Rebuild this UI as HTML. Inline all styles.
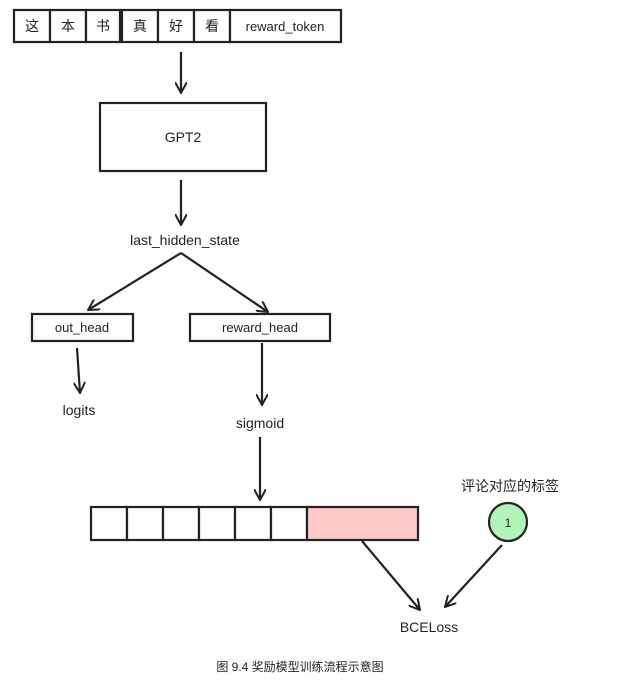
<!DOCTYPE html>
<html><head><meta charset="utf-8"><style>
body{margin:0;background:#fff}
svg text{font-family:"Liberation Sans","Noto Sans CJK SC",sans-serif;fill:#222}
</style></head><body>
<svg width="617" height="685" viewBox="0 0 617 685" xmlns="http://www.w3.org/2000/svg">
<defs><marker id="a" viewBox="0 0 12 12" refX="11" refY="6" markerWidth="12" markerHeight="12" markerUnits="userSpaceOnUse" orient="auto"><path d="M0 0L11 6L0 12" fill="none" stroke="#222" stroke-width="2"/></marker></defs>
<g fill="#fff" stroke="#222" stroke-width="2.2">
<rect x="14" y="10" width="36" height="32"/><rect x="50" y="10" width="36" height="32"/><rect x="86" y="10" width="34" height="32"/><rect x="122" y="10" width="36" height="32"/><rect x="158" y="10" width="36" height="32"/><rect x="194" y="10" width="36" height="32"/><rect x="230" y="10" width="111" height="32"/>
<rect x="100" y="103" width="166" height="68"/>
<rect x="32" y="314" width="101" height="27"/><rect x="190" y="314" width="140" height="27"/>
<rect x="91" y="507" width="36" height="33"/><rect x="127" y="507" width="36" height="33"/><rect x="163" y="507" width="36" height="33"/><rect x="199" y="507" width="36" height="33"/><rect x="235" y="507" width="36" height="33"/><rect x="271" y="507" width="36" height="33"/>
<rect x="307" y="507" width="111" height="33" fill="#ffc9c9"/>
<circle cx="508" cy="522" r="19" fill="#b2f2bb"/>
</g>
<g stroke="#222" stroke-width="2.2" fill="none" marker-end="url(#a)">
<line x1="181" y1="52" x2="181" y2="93"/>
<line x1="181" y1="180" x2="181" y2="225"/>
<line x1="181" y1="253" x2="88" y2="310"/>
<line x1="181" y1="253" x2="268" y2="312"/>
<line x1="77" y1="348" x2="80" y2="393"/>
<line x1="262" y1="343" x2="262" y2="405"/>
<line x1="260" y1="437" x2="260" y2="500"/>
<line x1="362" y1="541" x2="420" y2="610"/>
<line x1="502" y1="545" x2="445" y2="607"/>
</g>
<g font-size="14" text-anchor="middle">
<text x="32" y="31">这</text><text x="68" y="31">本</text><text x="103" y="31">书</text><text x="140" y="31">真</text><text x="176" y="31">好</text><text x="212" y="31">看</text>
<text x="285" y="31" font-size="13">reward_token</text>
<text x="183" y="142">GPT2</text>
<text x="185" y="245">last_hidden_state</text>
<text x="82" y="332" font-size="13">out_head</text>
<text x="260" y="332" font-size="13">reward_head</text>
<text x="79" y="415">logits</text>
<text x="260" y="428">sigmoid</text>
<text x="510" y="491">评论对应的标签</text>
<text x="508" y="527" font-size="12">1</text>
<text x="429" y="632">BCELoss</text>
<text x="300" y="671" font-size="12" fill="#444">图  9.4   奖励模型训练流程示意图</text>
</g>
</svg>
</body></html>
